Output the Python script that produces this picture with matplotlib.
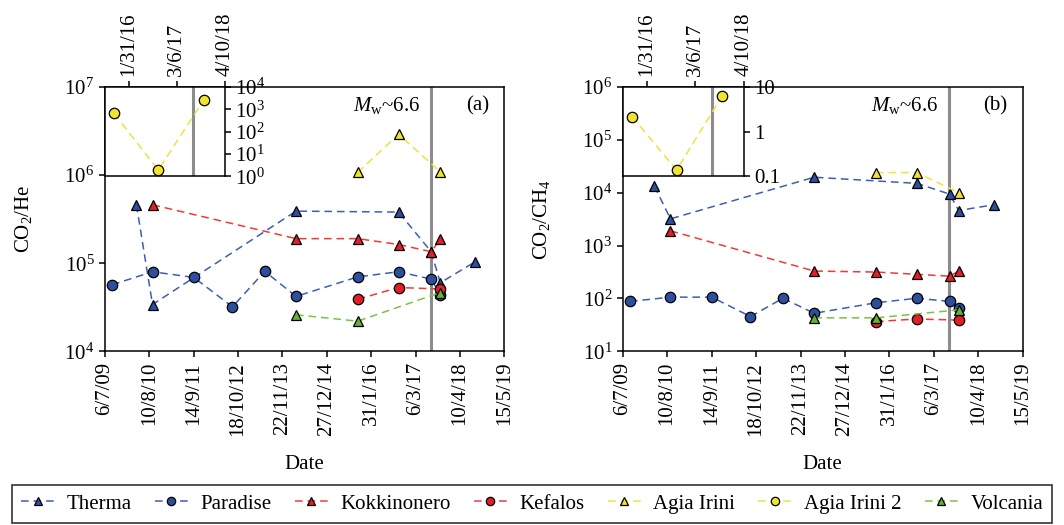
import numpy as np
import matplotlib
matplotlib.use("Agg")
import matplotlib.pyplot as plt
import matplotlib.dates as mdates
from matplotlib.ticker import FixedLocator, FuncFormatter, NullLocator, LogLocator

plt.rcParams["font.family"] = ["Liberation Serif", "DejaVu Serif"]
plt.rcParams["mathtext.fontset"] = "custom"
plt.rcParams["mathtext.rm"] = "Liberation Serif"
plt.rcParams["mathtext.it"] = "Liberation Serif:italic"
plt.rcParams["font.size"] = 15

# sampling dates of each site
therma_dates = ["2010-04-17", "2010-09-09", "2014-03-25", "2016-10-04",
                "2017-07-25", "2017-10-15", "2018-08-26"]
paradise_dates = ["2009-09-10", "2010-09-09", "2011-09-16", "2012-08-29",
                  "2013-06-17", "2014-03-25", "2015-10-02", "2016-10-04",
                  "2017-07-25", "2017-10-15"]
kokkinonero_dates = ["2010-09-09", "2014-03-25", "2015-10-02", "2016-10-04",
                     "2017-07-25", "2017-10-15"]
kefalos_dates = ["2015-10-02", "2016-10-04", "2017-10-15"]
agia_irini_dates = ["2015-10-02", "2016-10-04", "2017-10-15"]
agia_irini2_dates = ["2015-10-02", "2016-10-04", "2017-10-15"]
volcania_dates = ["2014-03-25", "2015-10-02", "2017-10-15"]

# CO2/He ratios
therma_he = [4.6e5, 3.4e4, 3.9e5, 3.8e5, 1.35e5, 6.0e4, 1.04e5]
paradise_he = [5.7e4, 8.0e4, 6.9e4, 3.2e4, 8.1e4, 4.2e4, 7.0e4, 8.0e4, 6.6e4, 4.4e4]
kokkinonero_he = [4.6e5, 1.9e5, 1.9e5, 1.63e5, 1.35e5, 1.87e5]
kefalos_he = [3.9e4, 5.3e4, 5.1e4]
agia_irini_he = [1.07e6, 2.9e6, 1.09e6]
agia_irini2_he = [650, 1.94, 2500]
volcania_he = [2.6e4, 2.2e4, 4.65e4]

# CO2/CH4 ratios
therma_ch4 = [1.34e4, 3.2e3, 1.96e4, 1.5e4, 9.4e3, 4.6e3, 5.9e3]
paradise_ch4 = [88, 106, 106, 45.5, 101, 52.5, 83, 101, 88, 65]
kokkinonero_ch4 = [1.9e3, 330, 316, 286, 264, 330]
kefalos_ch4 = [36.6, 41, 39]
agia_irini_ch4 = [2.4e4, 2.4e4, 1.0e4]
agia_irini2_ch4 = [2.17, 0.139, 6.25]
volcania_ch4 = [43, 43, 61]

names = ["Therma", "Paradise", "Kokkinonero", "Kefalos",
         "Agia Irini", "Agia Irini 2", "Volcania"]
dates = [therma_dates, paradise_dates, kokkinonero_dates, kefalos_dates,
         agia_irini_dates, agia_irini2_dates, volcania_dates]
he = [therma_he, paradise_he, kokkinonero_he, kefalos_he,
      agia_irini_he, agia_irini2_he, volcania_he]
ch4 = [therma_ch4, paradise_ch4, kokkinonero_ch4, kefalos_ch4,
       agia_irini_ch4, agia_irini2_ch4, volcania_ch4]

# earthquake (Kos, Mw 6.6)
eq_date = np.datetime64("2017-07-21")

# styles: marker, face colour, line colour
styles = {
    "Therma": ("^", "#2e4e9e", "#3d5fb0"),
    "Paradise": ("o", "#2e4e9e", "#3d5fb0"),
    "Kokkinonero": ("^", "#e41e26", "#f03a3a"),
    "Kefalos": ("o", "#e41e26", "#f03a3a"),
    "Agia Irini": ("^", "#f0e430", "#ece43c"),
    "Agia Irini 2": ("o", "#f0e430", "#ece43c"),
    "Volcania": ("^", "#62b233", "#7cc244"),
}
dash = (0, (5, 3.2))

x_start = np.datetime64("2009-07-06")
x_end = np.datetime64("2019-05-15")
x_ticks = x_start + np.arange(10) * np.timedelta64(400, "D")
inset_ticks = np.array(["2016-01-31", "2017-03-06", "2018-04-10"], dtype="datetime64[D]")


def dmy(v, pos=None):
    d = mdates.num2date(v)
    return f"{d.day}/{d.month}/{d.year % 100:02d}"


def mdy(v, pos=None):
    d = mdates.num2date(v)
    return f"{d.month}/{d.day}/{d.year % 100:02d}"


fig = plt.figure(figsize=(10.64, 5.25), dpi=100)
ax_he = fig.add_axes([0.0985, 0.3307, 0.3755, 0.5038])
ax_ch4 = fig.add_axes([0.5852, 0.3307, 0.3761, 0.5038])
in_he = fig.add_axes([0.0985, 0.664, 0.1128, 0.1705])
in_ch4 = fig.add_axes([0.5852, 0.664, 0.1137, 0.1705])

handles = {}
for ax, inset, values, ylim, in_ylim in [
        (ax_he, in_he, he, (1e4, 1e7), (1, 1e4)),
        (ax_ch4, in_ch4, ch4, (10, 1e6), (0.1, 10))]:
    for name, dd, vv in zip(names, dates, values):
        marker, face, line = styles[name]
        target = inset if name == "Agia Irini 2" else ax
        h, = target.plot(np.array(dd, dtype="datetime64[D]"), vv, linestyle=dash,
                         color=line, lw=1.1, marker=marker, ms=7.5, mfc=face,
                         mec="black", mew=0.9, label=name, zorder=3)
        handles[name] = h
    for a in (ax, inset):
        a.axvline(eq_date, color="#8c8c8c", lw=2.2, zorder=1)
        a.set_yscale("log")
        a.yaxis.set_minor_locator(NullLocator())
        for s in a.spines.values():
            s.set_linewidth(1.1)
        a.tick_params(direction="out", length=4, width=1.1)
    ax.set_ylim(*ylim)
    ax.yaxis.set_major_locator(LogLocator(base=10, numticks=10))
    ax.set_xlim(x_start, x_end)
    ax.xaxis.set_major_locator(FixedLocator(mdates.date2num(x_ticks)))
    ax.xaxis.set_major_formatter(FuncFormatter(dmy))
    ax.tick_params(axis="x", labelrotation=90)
    ax.set_xlabel("Date", labelpad=14)

    # inset for Agia Irini 2
    inset.set_facecolor("white")
    inset.set_ylim(*in_ylim)
    inset.set_xlim(np.datetime64("2015-07-17"), np.datetime64("2018-04-10"))
    inset.xaxis.tick_top()
    inset.yaxis.tick_right()
    inset.xaxis.set_major_locator(FixedLocator(mdates.date2num(inset_ticks)))
    inset.xaxis.set_major_formatter(FuncFormatter(mdy))
    inset.tick_params(axis="x", labelrotation=90)

in_he.yaxis.set_major_locator(LogLocator(base=10, numticks=10))
in_ch4.yaxis.set_major_locator(FixedLocator([0.1, 1, 10]))
in_ch4.yaxis.set_major_formatter(FuncFormatter(lambda v, p: f"{v:g}"))

ax_he.set_ylabel("CO$_2$/He", labelpad=22)
ax_ch4.set_ylabel("CO$_2$/CH$_4$", labelpad=22)

for ax, tag in [(ax_he, "(a)"), (ax_ch4, "(b)")]:
    ax.text(0.79, 0.928, r"$M_{\mathrm{w}}$~6.6", transform=ax.transAxes,
            ha="right", va="center")
    ax.text(0.962, 0.928, tag, transform=ax.transAxes, ha="right", va="center")

leg = fig.legend([handles[n] for n in names], names, loc="lower center",
                 bbox_to_anchor=(0.5, 0.004), ncol=7, frameon=True,
                 fancybox=False, handlelength=1.6, handletextpad=0.6,
                 columnspacing=1.1, borderpad=0.45, borderaxespad=0,
                 markerscale=0.8, fontsize=15)
leg.get_frame().set_edgecolor("black")
leg.get_frame().set_linewidth(1.2)

plt.savefig("out.png", dpi=100)
